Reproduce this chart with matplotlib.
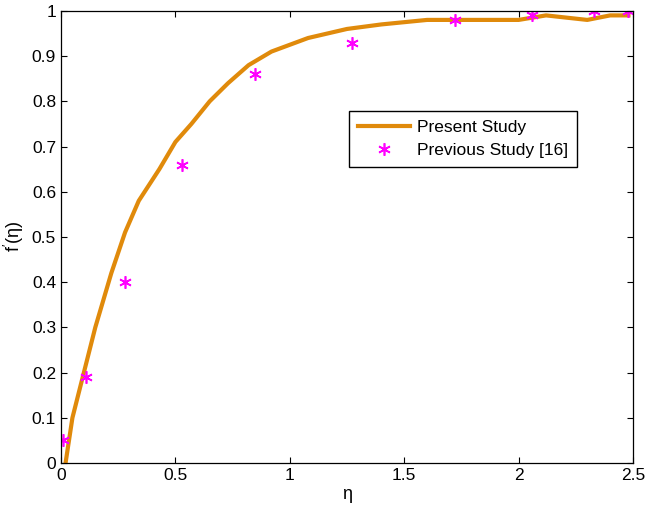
import matplotlib.pyplot as plt

plt.rcParams["font.family"] = ["Liberation Sans", "DejaVu Sans"]
plt.rcParams["mathtext.fontset"] = "custom"
plt.rcParams["mathtext.rm"] = "Liberation Sans"
plt.rcParams["mathtext.it"] = "Liberation Sans"

# present study (solid line)
eta_present = [0.02, 0.05, 0.10, 0.15, 0.22, 0.28, 0.34, 0.43, 0.50, 0.57, 0.65, 0.73,
               0.82, 0.92, 1.08, 1.25, 1.40, 1.60, 2.00, 2.12, 2.30, 2.40, 2.48]
f_present = [0.0, 0.10, 0.20, 0.30, 0.42, 0.51, 0.58, 0.65, 0.71, 0.75, 0.80, 0.84,
             0.88, 0.91, 0.94, 0.96, 0.97, 0.98, 0.98, 0.99, 0.98, 0.99, 0.99]

# previous study [16] (markers)
eta_prev = [0.01, 0.11, 0.28, 0.53, 0.85, 1.27, 1.72, 2.06, 2.33, 2.48]
f_prev = [0.05, 0.19, 0.40, 0.66, 0.86, 0.93, 0.98, 0.99, 1.00, 1.00]

fig = plt.figure(figsize=(6.46, 5.08), dpi=100)
ax = fig.add_axes([0.0944, 0.0886, 0.8855, 0.890])
ax.plot(eta_present, f_present, color="#E08A0B", lw=3, label="Present Study")
ax.plot(eta_prev, f_prev, ls="none", marker=(6, 2, 0), ms=9, mew=1.2,
        color="#FF00FF", label="Previous Study [16]")

ax.set_xlim(0, 2.5)
ax.set_ylim(0, 1)
ax.set_xticks([0, 0.5, 1, 1.5, 2, 2.5])
ax.set_xticklabels(["0", "0.5", "1", "1.5", "2", "2.5"])
ax.set_yticks([i / 10 for i in range(11)])
ax.set_yticklabels(["0", "0.1", "0.2", "0.3", "0.4", "0.5", "0.6", "0.7", "0.8", "0.9", "1"])
ax.tick_params(direction="in", top=True, right=True, labelsize=12.5, length=4, width=0.8)
for s in ax.spines.values():
    s.set_linewidth(0.9)
ax.set_xlabel("η", fontsize=13, labelpad=2)
ax.set_ylabel("f$^{\\prime}$(η)", fontsize=13, labelpad=4)

ax.legend(loc="upper left", bbox_to_anchor=(0.5035, 0.779), borderaxespad=0,
          fontsize=12.5, frameon=True, fancybox=False, edgecolor="black",
          framealpha=1, handlelength=3.0, handletextpad=0.4, borderpad=0.5)

fig.savefig("out.png", dpi=100)
